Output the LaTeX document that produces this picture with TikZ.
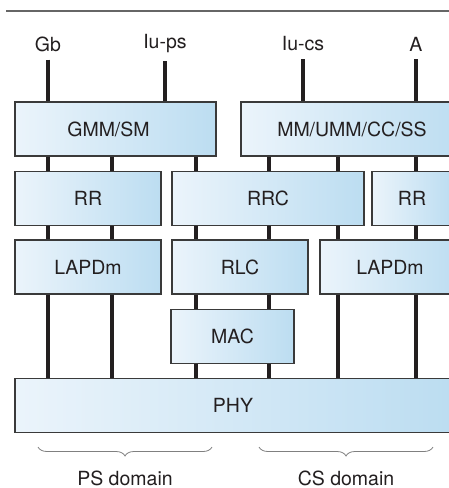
\documentclass[tikz,border=0pt]{standalone}
\usepackage{fontspec}
\setmainfont{TeX Gyre Heros}
\usepackage{xcolor}
\usetikzlibrary{decorations.pathreplacing}

\definecolor{ink}{HTML}{231F20}
\definecolor{boxline}{HTML}{3A3A3A}
\definecolor{lightblue}{HTML}{EBF4FB}
\definecolor{darkblue}{HTML}{BCDDF1}

\tikzset{
  layer/.style={draw=boxline, line width=1.2pt, left color=lightblue, right color=darkblue,
    minimum height=54pt, inner sep=0pt, text=ink},
  iface/.style={text=ink, inner sep=0pt},
  link/.style={draw=ink, line width=4pt},
  bracket/.style={decorate, decoration={brace, mirror, amplitude=9pt}, draw=gray, line width=0.8pt}
}

\begin{document}
\begin{tikzpicture}[x=1pt, y=-1pt, font=\fontsize{19.5}{23}\selectfont]
        \useasboundingbox (0,0) rectangle (449,488);
        \clip (0,0) rectangle (449,488);
        \draw[gray!80!black, line width=1.3pt] (6,11) -- (460,11);

        \node[iface](gb) at (48,44) {Gb};
        \node[iface](iups) at (165,44) {Iu-ps};
        \node[iface](iucs) at (303,44) {Iu-cs};
        \node[iface](a) at (416,44) {A};

        \node[layer, minimum width=201pt](gmm) at (115.5,129) {\hspace*{-14pt}GMM/SM};
        \node[layer, minimum width=222pt](mm) at (352,129) {MM/UMM/CC/SS};
        \node[layer, minimum width=146pt](rrps) at (88,198.5) {RR};
        \node[layer, minimum width=192pt](rrc) at (268,198.5) {RRC};
        \node[layer, minimum width=80pt](rrcs) at (412,198.5) {RR};
        \node[layer, minimum width=146pt](lapdps) at (88,267) {LAPDm};
        \node[layer, minimum width=136pt](rlc) at (240,267) {RLC};
        \node[layer, minimum width=140pt](lapdcs) at (390,267) {LAPDm};
        \node[layer, minimum width=123pt](mac) at (232.5,336.5) {MAC};
        \node[layer, minimum width=436pt](phy) at (233,405.5) {PHY};

        \coordinate(c1) at (48,0);
        \coordinate(c2) at (112,0);
        \coordinate(c3) at (196,0);
        \coordinate(c4) at (269,0);
        \coordinate(c5) at (338,0);
        \coordinate(c6) at (416,0);

        \draw[link] (gb.south) ++(0,8) -- (gmm.north -| gb);
        \draw[link] (iups.south) ++(0,8) -- (gmm.north -| iups);
        \draw[link] (iucs.south) ++(0,8) -- (mm.north -| iucs);
        \draw[link] (a.south) ++(0,8) -- (mm.north -| a);

        \foreach \c/\p/\q in {c1/gmm/rrps, c1/rrps/lapdps, c1/lapdps/phy,
                              c2/gmm/rrps, c2/rrps/lapdps, c2/lapdps/phy,
                              c3/gmm/rrc, c3/rrc/rlc, c3/rlc/mac, c3/mac/phy,
                              c4/mm/rrc, c4/rrc/rlc, c4/rlc/mac, c4/mac/phy,
                              c5/mm/rrc, c5/rrc/lapdcs, c5/lapdcs/phy,
                              c6/mm/rrcs, c6/rrcs/lapdcs, c6/lapdcs/phy}
          \draw[link] (\p.south -| \c) -- (\q.north -| \c);

        \coordinate(psl) at (38,447);
        \coordinate(psr) at (212,447);
        \coordinate(csl) at (259,447);
        \coordinate(csr) at (433,447);
        \draw[bracket] (psl) -- (psr);
        \draw[bracket] (csl) -- (csr);
        \node[iface](ps) at (125,478) {PS domain};
        \node[iface](cs) at (346,478) {CS domain};
\end{tikzpicture}
\end{document}
